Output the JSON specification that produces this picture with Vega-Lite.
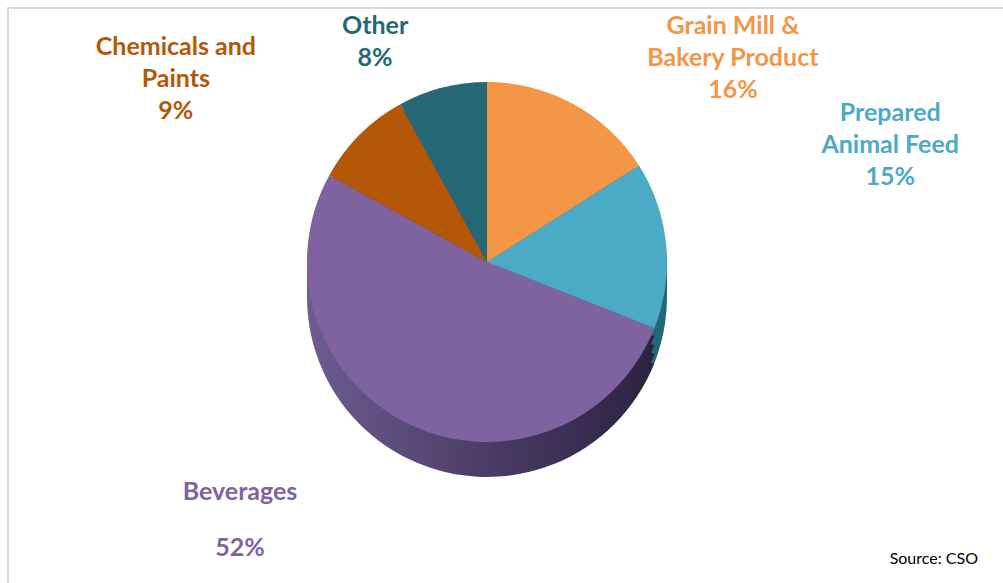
{
  "$schema": "https://vega.github.io/schema/vega-lite/v6.json",
  "width": 1000,
  "height": 580,
  "autosize": {"type": "none"},
  "padding": {"left": 8, "top": 8, "right": 0, "bottom": 0},
  "background": "white",
  "view": {"stroke": "#d9d9d9", "strokeWidth": 2},
  "title": {"text": "Source: CSO", "orient": "bottom", "anchor": "end", "font": "Lato", "fontSize": 16, "fontWeight": "normal", "color": "#000000", "offset": 0, "dx": -30, "dy": -37},
  "data": {"values": [
    {"idx": 1, "category": "Grain Mill & Bakery Product", "value": 16, "label": "Grain Mill &\nBakery Product\n16%"},
    {"idx": 2, "category": "Prepared Animal Feed", "value": 15, "label": "Prepared\nAnimal Feed\n15%"},
    {"idx": 3, "category": "Beverages", "value": 52, "label": "Beverages\n52%"},
    {"idx": 4, "category": "Chemicals and Paints", "value": 9, "label": "Chemicals and\nPaints\n9%"},
    {"idx": 5, "category": "Other", "value": 8, "label": "Other\n8%"}
  ]},
  "encoding": {
    "theta": {"field": "value", "type": "quantitative", "stack": true},
    "order": {"field": "idx", "type": "quantitative"}
  },
  "layer": [
    {"mark": {"type": "arc", "outerRadius": 180, "xOffset": -21, "yOffset": -1},
     "encoding": {"fill": {"field": "category", "type": "nominal", "legend": null,
       "condition": {"test": "datum.idx === 3", "value": {"gradient": "linear", "x1": 0, "y1": 0, "x2": 1, "y2": 0, "stops": [{"offset": 0, "color": "#6d5c90"}, {"offset": 0.6, "color": "#45375f"}, {"offset": 1, "color": "#2b2240"}]}},
       "scale": {"domain": ["Grain Mill & Bakery Product", "Prepared Animal Feed", "Beverages", "Chemicals and Paints", "Other"],
                 "range": ["#b06a2c", "#23687a", "#46385e", "#7a3a05", "#17485a"]}}}},
    {"mark": {"type": "arc", "outerRadius": 180, "xOffset": -21, "yOffset": -10},
     "encoding": {"fill": {"field": "category", "type": "nominal", "legend": null,
       "condition": {"test": "datum.idx === 3", "value": {"gradient": "linear", "x1": 0, "y1": 0, "x2": 1, "y2": 0, "stops": [{"offset": 0, "color": "#6d5c90"}, {"offset": 0.6, "color": "#45375f"}, {"offset": 1, "color": "#2b2240"}]}}}}},
    {"mark": {"type": "arc", "outerRadius": 180, "xOffset": -21, "yOffset": -19},
     "encoding": {"fill": {"field": "category", "type": "nominal", "legend": null,
       "condition": {"test": "datum.idx === 3", "value": {"gradient": "linear", "x1": 0, "y1": 0, "x2": 1, "y2": 0, "stops": [{"offset": 0, "color": "#6d5c90"}, {"offset": 0.6, "color": "#45375f"}, {"offset": 1, "color": "#2b2240"}]}}}}},
    {"mark": {"type": "arc", "outerRadius": 180, "xOffset": -21, "yOffset": -28},
     "encoding": {"fill": {"field": "category", "type": "nominal", "legend": null,
       "condition": {"test": "datum.idx === 3", "value": {"gradient": "linear", "x1": 0, "y1": 0, "x2": 1, "y2": 0, "stops": [{"offset": 0, "color": "#6d5c90"}, {"offset": 0.6, "color": "#45375f"}, {"offset": 1, "color": "#2b2240"}]}}}}},
    {"mark": {"type": "arc", "outerRadius": 180, "xOffset": -21, "yOffset": -36},
     "encoding": {"color": {"field": "category", "type": "nominal", "legend": null,
       "scale": {"domain": ["Grain Mill & Bakery Product", "Prepared Animal Feed", "Beverages", "Chemicals and Paints", "Other"],
                 "range": ["#f39646", "#4baac5", "#7f62a0", "#b55708", "#266878"]}}}},
    {"mark": {"type": "text", "clip": true, "radius": 500, "xOffset": -16, "yOffset": 166, "font": "Lato", "fontSize": 25, "fontWeight": "bold", "lineBreak": "\n", "lineHeight": 32},
     "encoding": {
       "color": {"field": "category", "type": "nominal", "legend": null},
       "text": {"condition": {"test": "datum.idx === 1", "field": "label"}, "value": ""}}},
    {"mark": {"type": "text", "clip": true, "radius": 440, "xOffset": -21, "yOffset": 60, "font": "Lato", "fontSize": 25, "fontWeight": "bold", "lineBreak": "\n", "lineHeight": 32},
     "encoding": {
       "color": {"field": "category", "type": "nominal", "legend": null},
       "text": {"condition": {"test": "datum.idx === 4", "field": "label"}, "value": ""}}},
    {"mark": {"type": "text", "clip": true, "radius": 450, "xOffset": -21, "yOffset": 164, "font": "Lato", "fontSize": 25, "fontWeight": "bold", "lineBreak": "\n", "lineHeight": 32},
     "encoding": {
       "color": {"field": "category", "type": "nominal", "legend": null},
       "text": {"condition": {"test": "datum.idx === 5", "field": "label"}, "value": ""}}},
    {"mark": {"type": "text", "clip": true, "radius": 405, "xOffset": -21, "yOffset": -147, "font": "Lato", "fontSize": 25, "fontWeight": "bold", "lineBreak": "\n", "lineHeight": 32},
     "encoding": {
       "color": {"field": "category", "type": "nominal", "legend": null},
       "text": {"condition": {"test": "datum.idx === 2", "field": "label"}, "value": ""}}},
    {"mark": {"type": "text", "clip": true, "radius": 580, "xOffset": -21, "yOffset": -331, "font": "Lato", "fontSize": 25, "fontWeight": "bold", "lineBreak": "\n", "lineHeight": 56},
     "encoding": {
       "color": {"field": "category", "type": "nominal", "legend": null},
       "text": {"condition": {"test": "datum.idx === 3", "field": "label"}, "value": ""}}}
  ]
}
